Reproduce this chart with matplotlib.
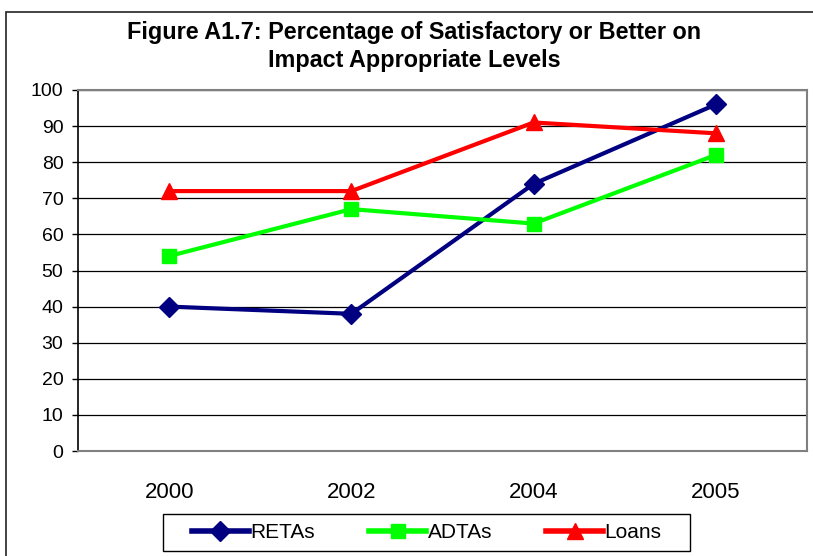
import numpy as np
import matplotlib.pyplot as plt
from matplotlib.patches import Rectangle

plt.rcParams['font.family'] = ['Liberation Sans', 'DejaVu Sans']

# data
years = ['2000', '2002', '2004', '2005']
retas = [40, 38, 74, 96]
adtas = [54, 67, 63, 82]
loans = [72, 72, 91, 88]

W, H = 813, 556
fig = plt.figure(figsize=(W / 100, H / 100), dpi=100)

# outer chart frame (cut off at right and bottom)
fig.patches.append(Rectangle((6 / W, -0.05), 1.1, 1.05 - 12 / H,
                             transform=fig.transFigure, fill=False,
                             edgecolor='#222222', linewidth=1.2))

ax = fig.add_axes([78 / W, 1 - 451 / H, (807 - 78) / W, (451 - 90) / H])

x = np.arange(len(years)) + 0.5
ax.plot(x, retas, color='#000080', lw=3, marker='D', ms=10, label='RETAs', zorder=3)
ax.plot(x, adtas, color='#00FF00', lw=3, marker='s', ms=10.5, label='ADTAs', zorder=3)
ax.plot(x, loans, color='#FF0000', lw=3, marker='^', ms=12, label='Loans', zorder=3)

ax.set_xlim(0, 4)
ax.set_ylim(0, 100)
ax.set_yticks(range(0, 101, 10))
ax.set_xticks(x)
ax.set_xticklabels(years)
ax.tick_params(axis='x', length=0, pad=22, labelsize=16)
ax.tick_params(axis='y', length=4.5, width=1, labelsize=14, pad=6)
ax.grid(axis='y', color='#000000', lw=0.9)
ax.set_axisbelow(True)
for s in ['top', 'right', 'bottom']:
    ax.spines[s].set_color('#808080')
    ax.spines[s].set_linewidth(1.5)
ax.spines['left'].set_color('#000000')
ax.spines['left'].set_linewidth(1.2)

fig.text(414 / W, 1 - 32 / H, 'Figure A1.7: Percentage of Satisfactory or Better on',
         ha='center', va='center', fontsize=16.8, fontweight='bold')
fig.text(414 / W, 1 - 60 / H, 'Impact Appropriate Levels',
         ha='center', va='center', fontsize=16.8, fontweight='bold')

leg = fig.legend(loc='center', bbox_to_anchor=(427 / W, 1 - 533 / H), ncol=3,
                 frameon=False, fontsize=15, handlelength=2.7, columnspacing=2.6,
                 handletextpad=0.1, borderpad=0.4)
for h in leg.legend_handles:
    h.set_linewidth(4)

# legend box
fig.patches.append(Rectangle((163 / W, 1 - 551 / H), (690 - 163) / W, 37 / H,
                             transform=fig.transFigure, fill=False,
                             edgecolor='#000000', linewidth=1.0))

fig.savefig('out.png', dpi=100)
